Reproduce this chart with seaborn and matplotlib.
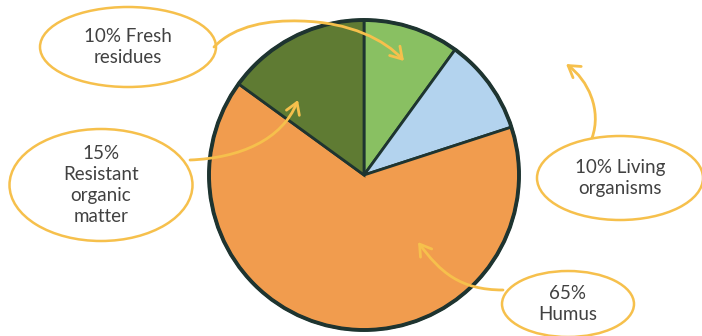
import matplotlib
matplotlib.use("Agg")
import matplotlib.pyplot as plt
import seaborn as sns
from matplotlib.patches import Ellipse, FancyArrowPatch
from matplotlib.path import Path

sns.set_theme(style="white")
plt.rcParams["font.family"] = ["Lato", "DejaVu Sans"]

# Composition of soil organic matter (%)
categories = ["Fresh residues", "Living organisms", "Humus", "Resistant organic matter"]
shares = [10, 10, 65, 15]
colors = ["#89c062", "#b3d3ee", "#f19c4e", "#5f7b33"]
labels = ["10% Fresh\nresidues", "10% Living\norganisms", "65%\nHumus",
          "15%\nResistant\norganic\nmatter"]

W, H = 702, 336
fig = plt.figure(figsize=(W / 100, H / 100), dpi=100)
ax = fig.add_axes([0, 0, 1, 1])

def fy(y):
    return H - y

# pie
ax.pie(shares, colors=colors, startangle=90, counterclock=False,
       center=(364, fy(175)), radius=155, frame=True,
       wedgeprops=dict(edgecolor="#1e3430", linewidth=2.0))
ax.add_patch(plt.Circle((364, fy(175)), 155, fill=False, ec="#1e3430", lw=2.8))
ax.set_xlim(0, W)
ax.set_ylim(0, H)
ax.set_aspect("equal")
ax.axis("off")

yellow = "#f6c04c"
text_color = "#414141"

# label bubbles: (center x, center y, width, height)
bubbles = {
    "Fresh residues": (128, 47, 176, 80),
    "Living organisms": (620, 178, 166, 84),
    "Humus": (568, 304, 132, 66),
    "Resistant organic matter": (101, 185, 183, 112),
}
for cat, lab in zip(categories, labels):
    cx, cy, w, h = bubbles[cat]
    ax.add_patch(Ellipse((cx, fy(cy)), w, h, facecolor="white",
                         edgecolor=yellow, lw=1.8, zorder=3))
    ax.text(cx, fy(cy), lab, ha="center", va="center", fontsize=13.5,
            color=text_color, linespacing=1.3, zorder=4)

# curved pointers from bubbles to slices
def pointer(points):
    verts = [(x, fy(y)) for x, y in points]
    codes = [Path.MOVETO] + [Path.CURVE4] * (len(verts) - 1)
    arr = FancyArrowPatch(path=Path(verts, codes),
                          arrowstyle="->,head_length=8,head_width=5",
                          color=yellow, lw=2.0, zorder=5)
    ax.add_patch(arr)

pointer([(214, 47), (235, 25), (270, 20), (300, 21),
         (350, 22), (385, 40), (404, 61)])
pointer([(190, 160), (240, 158), (282, 140), (298, 100)])
pointer([(592, 138), (602, 110), (588, 80), (566, 64)])
pointer([(503, 290), (460, 290), (440, 272), (418, 242)])

fig.savefig("out.png", dpi=100, facecolor="white")
